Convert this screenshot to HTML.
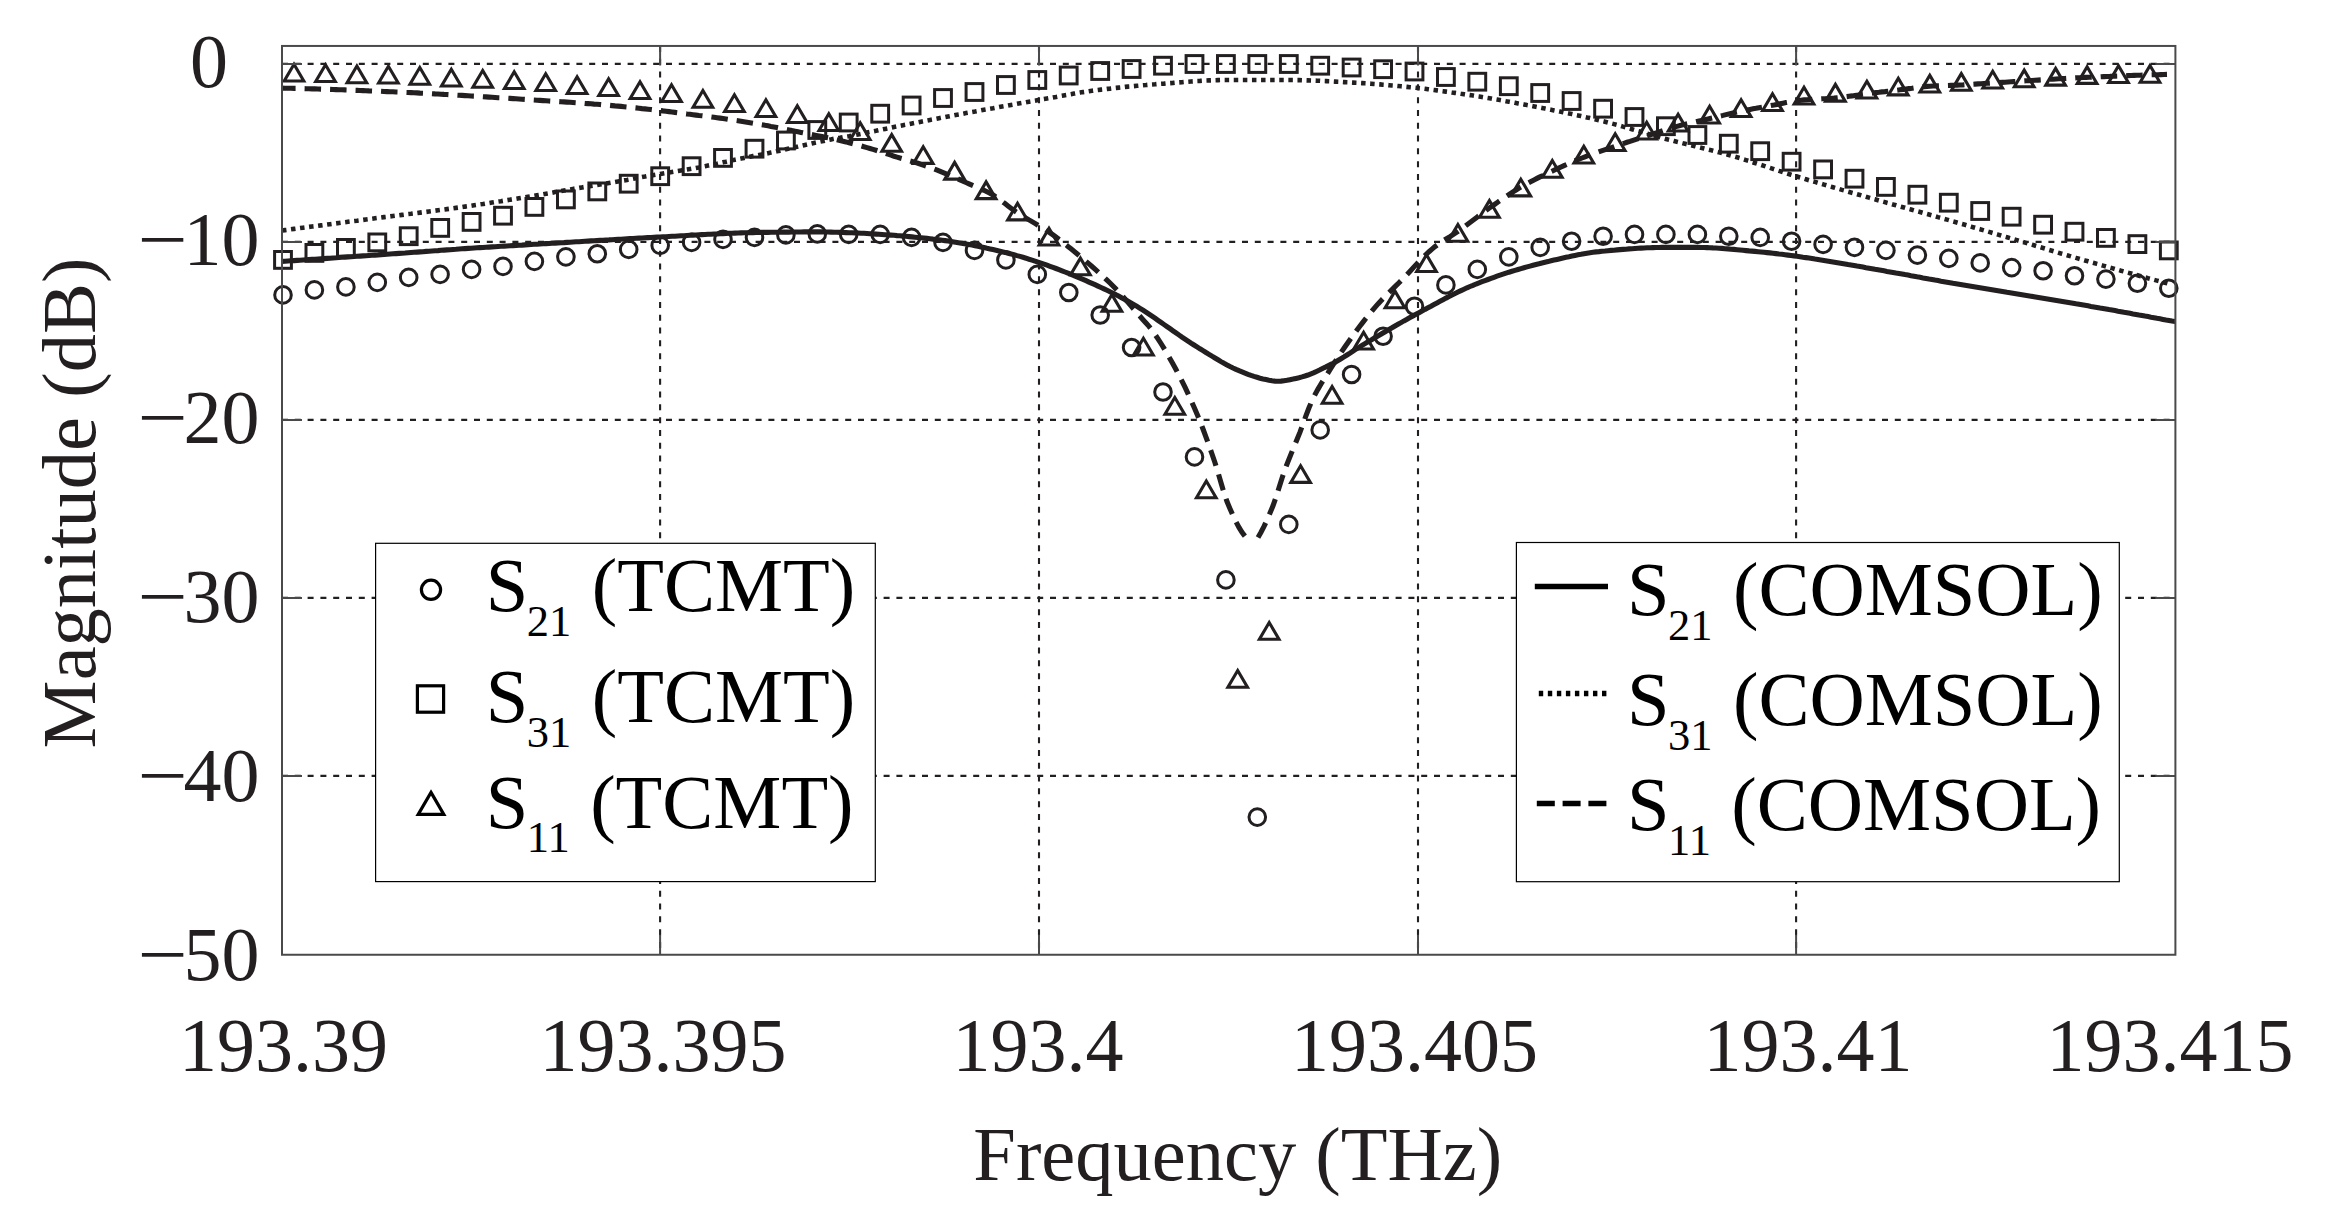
<!DOCTYPE html>
<html lang="en"><head><meta charset="utf-8"><title>S-parameters: TCMT vs COMSOL</title>
<style>html,body{margin:0;padding:0;background:#fff}svg{display:block}text{font-family:"Liberation Serif","DejaVu Serif",serif;fill:#231f20}.lg text{fill:#000}</style></head><body>
<svg width="2329" height="1226" viewBox="0 0 2329 1226">
<rect width="2329" height="1226" fill="#fff"/>
<g stroke="#231f20" stroke-width="2.1" stroke-dasharray="6 6.8" fill="none">
<path d="M282.0 63.9H2175.4"/>
<path d="M282.0 241.9H2175.4"/>
<path d="M282.0 419.9H2175.4"/>
<path d="M282.0 597.9H2175.4"/>
<path d="M282.0 775.9H2175.4"/>
<path d="M660.1 45.95V954.8"/>
<path d="M1039.0 45.95V954.8"/>
<path d="M1418.0 45.95V954.8"/>
<path d="M1796.1 45.95V954.8"/>
</g>
<clipPath id="ax"><rect x="282.0" y="45.95" width="1893.4" height="908.8499999999999"/></clipPath>
<g fill="none" stroke="#231f20" stroke-width="5.1" clip-path="url(#ax)">
<path d="M282.0 261.4 L285.0 261.2 L288.0 261.0 L291.0 260.8 L294.0 260.6 L297.0 260.4 L300.0 260.2 L303.0 260.0 L306.0 259.8 L309.0 259.6 L312.0 259.4 L315.0 259.2 L318.0 259.0 L321.0 258.8 L324.0 258.6 L327.0 258.4 L330.0 258.2 L333.0 258.0 L336.0 257.8 L339.0 257.5 L342.0 257.3 L345.0 257.1 L348.0 256.9 L351.0 256.7 L354.0 256.5 L357.0 256.3 L360.0 256.1 L363.0 255.9 L366.0 255.7 L369.0 255.5 L372.0 255.3 L375.0 255.1 L378.0 254.9 L381.0 254.6 L384.0 254.4 L387.0 254.2 L390.0 254.0 L393.0 253.8 L396.0 253.6 L399.0 253.4 L402.0 253.2 L405.0 253.0 L408.0 252.7 L411.0 252.5 L414.0 252.3 L417.0 252.1 L420.0 251.9 L423.0 251.7 L426.0 251.4 L429.0 251.2 L432.0 251.0 L435.0 250.8 L438.0 250.6 L441.0 250.3 L444.0 250.1 L447.0 249.9 L450.0 249.7 L453.0 249.5 L456.0 249.3 L459.0 249.0 L462.0 248.8 L465.0 248.6 L468.0 248.4 L471.0 248.2 L474.0 248.0 L477.0 247.8 L480.0 247.6 L483.0 247.5 L486.0 247.3 L489.0 247.1 L492.0 246.9 L495.0 246.7 L498.0 246.5 L501.0 246.3 L504.0 246.1 L507.0 246.0 L510.0 245.8 L513.0 245.6 L516.0 245.4 L519.0 245.2 L522.0 245.1 L525.0 244.9 L528.0 244.7 L531.0 244.5 L534.0 244.3 L537.0 244.2 L540.0 244.0 L543.0 243.8 L546.0 243.6 L549.0 243.5 L552.0 243.3 L555.0 243.1 L558.0 242.9 L561.0 242.7 L564.0 242.6 L567.0 242.4 L570.0 242.2 L573.0 242.0 L576.0 241.8 L579.0 241.7 L582.0 241.5 L585.0 241.3 L588.0 241.1 L591.0 240.9 L594.0 240.8 L597.0 240.6 L600.0 240.4 L603.0 240.2 L606.0 240.0 L609.0 239.9 L612.0 239.7 L615.0 239.5 L618.0 239.3 L621.0 239.2 L624.0 239.0 L627.0 238.8 L630.0 238.6 L633.0 238.5 L636.0 238.3 L639.0 238.1 L642.0 238.0 L645.0 237.8 L648.0 237.6 L651.0 237.5 L654.0 237.3 L657.0 237.1 L660.0 237.0 L663.0 236.8 L666.0 236.7 L669.0 236.5 L672.0 236.3 L675.0 236.2 L678.0 236.0 L681.0 235.8 L684.0 235.7 L687.0 235.5 L690.0 235.3 L693.0 235.1 L696.0 235.0 L699.0 234.8 L702.0 234.6 L705.0 234.5 L708.0 234.3 L711.0 234.2 L714.0 234.0 L717.0 233.9 L720.0 233.7 L723.0 233.6 L726.0 233.4 L729.0 233.3 L732.0 233.2 L735.0 233.1 L738.0 233.0 L741.0 232.9 L744.0 232.8 L747.0 232.7 L750.0 232.7 L753.0 232.6 L756.0 232.5 L759.0 232.5 L762.0 232.4 L765.0 232.4 L768.0 232.4 L771.0 232.3 L774.0 232.3 L777.0 232.2 L780.0 232.2 L783.0 232.1 L786.0 232.1 L789.0 232.1 L792.0 232.0 L795.0 232.0 L798.0 232.0 L801.0 232.0 L804.0 231.9 L807.0 231.9 L810.0 231.9 L813.0 231.9 L816.0 231.9 L819.0 231.9 L822.0 231.9 L825.0 232.0 L828.0 232.0 L831.0 232.1 L834.0 232.2 L837.0 232.3 L840.0 232.4 L843.0 232.5 L846.0 232.6 L849.0 232.7 L852.0 232.8 L855.0 232.9 L858.0 233.0 L861.0 233.2 L864.0 233.3 L867.0 233.5 L870.0 233.7 L873.0 233.9 L876.0 234.1 L879.0 234.3 L882.0 234.5 L885.0 234.7 L888.0 234.9 L891.0 235.1 L894.0 235.3 L897.0 235.6 L900.0 235.8 L903.0 236.1 L906.0 236.3 L909.0 236.6 L912.0 236.9 L915.0 237.2 L918.0 237.5 L921.0 237.8 L924.0 238.1 L927.0 238.4 L930.0 238.7 L933.0 239.1 L936.0 239.4 L939.0 239.8 L942.0 240.2 L945.0 240.6 L948.0 241.0 L951.0 241.4 L954.0 241.9 L957.0 242.4 L960.0 242.9 L963.0 243.4 L966.0 243.9 L969.0 244.5 L972.0 245.1 L975.0 245.7 L978.0 246.3 L981.0 246.9 L984.0 247.6 L987.0 248.3 L990.0 248.9 L993.0 249.6 L996.0 250.3 L999.0 251.0 L1002.0 251.7 L1005.0 252.4 L1008.0 253.2 L1011.0 253.9 L1014.0 254.7 L1017.0 255.6 L1020.0 256.4 L1023.0 257.3 L1026.0 258.2 L1029.0 259.2 L1032.0 260.1 L1035.0 261.1 L1038.0 262.1 L1041.0 263.1 L1044.0 264.1 L1047.0 265.2 L1050.0 266.3 L1053.0 267.4 L1056.0 268.5 L1059.0 269.6 L1062.0 270.8 L1065.0 272.0 L1068.0 273.2 L1071.0 274.4 L1074.0 275.6 L1077.0 276.9 L1080.0 278.2 L1083.0 279.4 L1086.0 280.7 L1089.0 282.1 L1092.0 283.4 L1095.0 284.7 L1098.0 286.1 L1101.0 287.5 L1104.0 288.9 L1107.0 290.3 L1110.0 291.7 L1113.0 293.2 L1116.0 294.8 L1119.0 296.3 L1122.0 297.9 L1125.0 299.5 L1128.0 301.2 L1131.0 302.9 L1134.0 304.6 L1137.0 306.4 L1140.0 308.3 L1143.0 310.2 L1146.0 312.2 L1149.0 314.2 L1152.0 316.2 L1155.0 318.2 L1158.0 320.3 L1161.0 322.4 L1164.0 324.5 L1167.0 326.6 L1170.0 328.7 L1173.0 330.8 L1176.0 332.9 L1179.0 335.0 L1182.0 337.1 L1185.0 339.1 L1188.0 341.1 L1191.0 343.1 L1194.0 345.0 L1197.0 346.9 L1200.0 348.8 L1203.0 350.6 L1206.0 352.5 L1209.0 354.3 L1212.0 356.2 L1215.0 358.0 L1218.0 359.8 L1221.0 361.6 L1224.0 363.3 L1227.0 364.9 L1230.0 366.5 L1233.0 368.0 L1236.0 369.4 L1239.0 370.7 L1242.0 371.9 L1245.0 373.1 L1248.0 374.3 L1251.0 375.4 L1254.0 376.4 L1257.0 377.3 L1260.0 378.2 L1263.0 378.9 L1266.0 379.5 L1269.0 380.2 L1272.0 380.8 L1275.0 381.1 L1278.0 381.2 L1281.0 381.1 L1284.0 380.7 L1287.0 380.3 L1290.0 379.7 L1293.0 379.1 L1296.0 378.4 L1299.0 377.7 L1302.0 376.9 L1305.0 376.0 L1308.0 375.0 L1311.0 373.8 L1314.0 372.6 L1317.0 371.2 L1320.0 369.8 L1323.0 368.3 L1326.0 366.9 L1329.0 365.4 L1332.0 363.9 L1335.0 362.3 L1338.0 360.5 L1341.0 358.7 L1344.0 356.9 L1347.0 355.0 L1350.0 353.1 L1353.0 351.1 L1356.0 349.2 L1359.0 347.3 L1362.0 345.4 L1365.0 343.6 L1368.0 341.8 L1371.0 340.1 L1374.0 338.3 L1377.0 336.5 L1380.0 334.8 L1383.0 333.0 L1386.0 331.2 L1389.0 329.5 L1392.0 327.8 L1395.0 326.0 L1398.0 324.3 L1401.0 322.6 L1404.0 320.9 L1407.0 319.3 L1410.0 317.6 L1413.0 316.0 L1416.0 314.3 L1419.0 312.7 L1422.0 311.1 L1425.0 309.4 L1428.0 307.8 L1431.0 306.2 L1434.0 304.5 L1437.0 302.9 L1440.0 301.3 L1443.0 299.7 L1446.0 298.1 L1449.0 296.6 L1452.0 295.0 L1455.0 293.5 L1458.0 292.0 L1461.0 290.6 L1464.0 289.2 L1467.0 287.8 L1470.0 286.5 L1473.0 285.3 L1476.0 284.0 L1479.0 282.9 L1482.0 281.7 L1485.0 280.6 L1488.0 279.5 L1491.0 278.4 L1494.0 277.3 L1497.0 276.2 L1500.0 275.2 L1503.0 274.2 L1506.0 273.2 L1509.0 272.2 L1512.0 271.3 L1515.0 270.4 L1518.0 269.5 L1521.0 268.6 L1524.0 267.7 L1527.0 266.9 L1530.0 266.1 L1533.0 265.3 L1536.0 264.5 L1539.0 263.8 L1542.0 263.0 L1545.0 262.3 L1548.0 261.6 L1551.0 260.8 L1554.0 260.1 L1557.0 259.4 L1560.0 258.7 L1563.0 258.0 L1566.0 257.3 L1569.0 256.7 L1572.0 256.0 L1575.0 255.4 L1578.0 254.8 L1581.0 254.3 L1584.0 253.7 L1587.0 253.2 L1590.0 252.7 L1593.0 252.3 L1596.0 251.9 L1599.0 251.6 L1602.0 251.2 L1605.0 251.0 L1608.0 250.7 L1611.0 250.4 L1614.0 250.2 L1617.0 249.9 L1620.0 249.6 L1623.0 249.4 L1626.0 249.2 L1629.0 248.9 L1632.0 248.7 L1635.0 248.5 L1638.0 248.3 L1641.0 248.1 L1644.0 248.0 L1647.0 247.8 L1650.0 247.7 L1653.0 247.6 L1656.0 247.5 L1659.0 247.5 L1662.0 247.4 L1665.0 247.4 L1668.0 247.4 L1671.0 247.4 L1674.0 247.4 L1677.0 247.4 L1680.0 247.4 L1683.0 247.4 L1686.0 247.4 L1689.0 247.4 L1692.0 247.4 L1695.0 247.4 L1698.0 247.4 L1701.0 247.5 L1704.0 247.5 L1707.0 247.6 L1710.0 247.7 L1713.0 247.9 L1716.0 248.0 L1719.0 248.2 L1722.0 248.4 L1725.0 248.7 L1728.0 248.9 L1731.0 249.2 L1734.0 249.4 L1737.0 249.7 L1740.0 250.0 L1743.0 250.3 L1746.0 250.6 L1749.0 250.9 L1752.0 251.1 L1755.0 251.4 L1758.0 251.7 L1761.0 252.0 L1764.0 252.3 L1767.0 252.6 L1770.0 252.9 L1773.0 253.2 L1776.0 253.6 L1779.0 254.0 L1782.0 254.3 L1785.0 254.7 L1788.0 255.1 L1791.0 255.5 L1794.0 255.9 L1797.0 256.3 L1800.0 256.7 L1803.0 257.2 L1806.0 257.6 L1809.0 258.0 L1812.0 258.5 L1815.0 259.0 L1818.0 259.4 L1821.0 259.9 L1824.0 260.4 L1827.0 260.9 L1830.0 261.4 L1833.0 261.9 L1836.0 262.4 L1839.0 262.9 L1842.0 263.4 L1845.0 263.9 L1848.0 264.5 L1851.0 265.0 L1854.0 265.5 L1857.0 266.1 L1860.0 266.6 L1863.0 267.1 L1866.0 267.7 L1869.0 268.2 L1872.0 268.7 L1875.0 269.3 L1878.0 269.8 L1881.0 270.3 L1884.0 270.8 L1887.0 271.4 L1890.0 271.9 L1893.0 272.4 L1896.0 273.0 L1899.0 273.5 L1902.0 274.0 L1905.0 274.6 L1908.0 275.1 L1911.0 275.7 L1914.0 276.2 L1917.0 276.8 L1920.0 277.3 L1923.0 277.9 L1926.0 278.4 L1929.0 279.0 L1932.0 279.5 L1935.0 280.1 L1938.0 280.6 L1941.0 281.2 L1944.0 281.7 L1947.0 282.2 L1950.0 282.7 L1953.0 283.3 L1956.0 283.8 L1959.0 284.3 L1962.0 284.8 L1965.0 285.3 L1968.0 285.8 L1971.0 286.3 L1974.0 286.8 L1977.0 287.3 L1980.0 287.8 L1983.0 288.3 L1986.0 288.8 L1989.0 289.3 L1992.0 289.8 L1995.0 290.3 L1998.0 290.8 L2001.0 291.3 L2004.0 291.8 L2007.0 292.3 L2010.0 292.7 L2013.0 293.2 L2016.0 293.7 L2019.0 294.2 L2022.0 294.7 L2025.0 295.2 L2028.0 295.7 L2031.0 296.2 L2034.0 296.7 L2037.0 297.2 L2040.0 297.7 L2043.0 298.2 L2046.0 298.7 L2049.0 299.2 L2052.0 299.7 L2055.0 300.2 L2058.0 300.7 L2061.0 301.2 L2064.0 301.7 L2067.0 302.2 L2070.0 302.7 L2073.0 303.2 L2076.0 303.8 L2079.0 304.3 L2082.0 304.8 L2085.0 305.3 L2088.0 305.8 L2091.0 306.4 L2094.0 306.9 L2097.0 307.4 L2100.0 308.0 L2103.0 308.5 L2106.0 309.0 L2109.0 309.6 L2112.0 310.1 L2115.0 310.6 L2118.0 311.2 L2121.0 311.7 L2124.0 312.3 L2127.0 312.8 L2130.0 313.3 L2133.0 313.9 L2136.0 314.4 L2139.0 315.0 L2142.0 315.5 L2145.0 316.1 L2148.0 316.6 L2151.0 317.2 L2154.0 317.7 L2157.0 318.3 L2160.0 318.8 L2163.0 319.4 L2166.0 320.0 L2169.0 320.5 L2172.0 321.1 L2175.0 321.6 L2175.4 321.7"/>
<path d="M282.0 230.5 L285.0 230.1 L288.0 229.7 L291.0 229.3 L294.0 228.9 L297.0 228.5 L300.0 228.1 L303.0 227.7 L306.0 227.3 L309.0 226.9 L312.0 226.5 L315.0 226.2 L318.0 225.8 L321.0 225.4 L324.0 225.0 L327.0 224.6 L330.0 224.2 L333.0 223.8 L336.0 223.4 L339.0 223.0 L342.0 222.6 L345.0 222.2 L348.0 221.8 L351.0 221.4 L354.0 221.0 L357.0 220.7 L360.0 220.3 L363.0 219.9 L366.0 219.5 L369.0 219.1 L372.0 218.7 L375.0 218.3 L378.0 217.9 L381.0 217.5 L384.0 217.1 L387.0 216.8 L390.0 216.4 L393.0 216.0 L396.0 215.6 L399.0 215.3 L402.0 214.9 L405.0 214.5 L408.0 214.1 L411.0 213.8 L414.0 213.4 L417.0 213.0 L420.0 212.6 L423.0 212.2 L426.0 211.9 L429.0 211.5 L432.0 211.1 L435.0 210.7 L438.0 210.3 L441.0 209.9 L444.0 209.5 L447.0 209.1 L450.0 208.7 L453.0 208.3 L456.0 207.9 L459.0 207.5 L462.0 207.1 L465.0 206.6 L468.0 206.2 L471.0 205.8 L474.0 205.3 L477.0 204.9 L480.0 204.4 L483.0 204.0 L486.0 203.5 L489.0 203.1 L492.0 202.6 L495.0 202.1 L498.0 201.6 L501.0 201.2 L504.0 200.7 L507.0 200.2 L510.0 199.7 L513.0 199.2 L516.0 198.8 L519.0 198.3 L522.0 197.8 L525.0 197.3 L528.0 196.8 L531.0 196.3 L534.0 195.8 L537.0 195.3 L540.0 194.8 L543.0 194.3 L546.0 193.7 L549.0 193.2 L552.0 192.7 L555.0 192.1 L558.0 191.6 L561.0 191.1 L564.0 190.5 L567.0 190.0 L570.0 189.5 L573.0 188.9 L576.0 188.4 L579.0 187.9 L582.0 187.4 L585.0 186.9 L588.0 186.4 L591.0 185.9 L594.0 185.5 L597.0 185.0 L600.0 184.5 L603.0 184.0 L606.0 183.5 L609.0 183.0 L612.0 182.5 L615.0 182.0 L618.0 181.5 L621.0 181.0 L624.0 180.4 L627.0 179.9 L630.0 179.3 L633.0 178.8 L636.0 178.2 L639.0 177.7 L642.0 177.1 L645.0 176.6 L648.0 176.0 L651.0 175.5 L654.0 174.9 L657.0 174.4 L660.0 173.9 L663.0 173.4 L666.0 172.9 L669.0 172.4 L672.0 171.9 L675.0 171.4 L678.0 170.9 L681.0 170.4 L684.0 170.0 L687.0 169.5 L690.0 169.0 L693.0 168.5 L696.0 167.9 L699.0 167.4 L702.0 166.8 L705.0 166.2 L708.0 165.6 L711.0 165.0 L714.0 164.3 L717.0 163.7 L720.0 163.0 L723.0 162.3 L726.0 161.7 L729.0 161.0 L732.0 160.3 L735.0 159.7 L738.0 159.1 L741.0 158.5 L744.0 157.9 L747.0 157.3 L750.0 156.7 L753.0 156.1 L756.0 155.6 L759.0 155.0 L762.0 154.4 L765.0 153.8 L768.0 153.2 L771.0 152.6 L774.0 152.0 L777.0 151.3 L780.0 150.7 L783.0 150.0 L786.0 149.3 L789.0 148.6 L792.0 147.9 L795.0 147.2 L798.0 146.6 L801.0 145.9 L804.0 145.2 L807.0 144.6 L810.0 143.9 L813.0 143.2 L816.0 142.6 L819.0 141.9 L822.0 141.3 L825.0 140.6 L828.0 140.0 L831.0 139.4 L834.0 138.8 L837.0 138.3 L840.0 137.8 L843.0 137.2 L846.0 136.7 L849.0 136.2 L852.0 135.6 L855.0 135.0 L858.0 134.4 L861.0 133.8 L864.0 133.2 L867.0 132.6 L870.0 132.0 L873.0 131.4 L876.0 130.8 L879.0 130.1 L882.0 129.5 L885.0 128.9 L888.0 128.3 L891.0 127.7 L894.0 127.0 L897.0 126.4 L900.0 125.8 L903.0 125.2 L906.0 124.7 L909.0 124.1 L912.0 123.5 L915.0 122.9 L918.0 122.3 L921.0 121.7 L924.0 121.1 L927.0 120.5 L930.0 119.9 L933.0 119.4 L936.0 118.8 L939.0 118.2 L942.0 117.6 L945.0 117.1 L948.0 116.5 L951.0 115.9 L954.0 115.4 L957.0 114.8 L960.0 114.3 L963.0 113.7 L966.0 113.1 L969.0 112.6 L972.0 112.0 L975.0 111.5 L978.0 110.9 L981.0 110.4 L984.0 109.8 L987.0 109.3 L990.0 108.7 L993.0 108.2 L996.0 107.6 L999.0 107.1 L1002.0 106.5 L1005.0 106.0 L1008.0 105.5 L1011.0 104.9 L1014.0 104.4 L1017.0 103.8 L1020.0 103.3 L1023.0 102.8 L1026.0 102.2 L1029.0 101.7 L1032.0 101.2 L1035.0 100.7 L1038.0 100.1 L1041.0 99.6 L1044.0 99.1 L1047.0 98.5 L1050.0 98.0 L1053.0 97.4 L1056.0 96.9 L1059.0 96.3 L1062.0 95.8 L1065.0 95.2 L1068.0 94.7 L1071.0 94.2 L1074.0 93.6 L1077.0 93.1 L1080.0 92.6 L1083.0 92.1 L1086.0 91.7 L1089.0 91.2 L1092.0 90.8 L1095.0 90.4 L1098.0 90.0 L1101.0 89.6 L1104.0 89.3 L1107.0 88.9 L1110.0 88.6 L1113.0 88.2 L1116.0 87.9 L1119.0 87.6 L1122.0 87.3 L1125.0 86.9 L1128.0 86.6 L1131.0 86.4 L1134.0 86.1 L1137.0 85.8 L1140.0 85.5 L1143.0 85.2 L1146.0 85.0 L1149.0 84.7 L1152.0 84.5 L1155.0 84.3 L1158.0 84.0 L1161.0 83.8 L1164.0 83.6 L1167.0 83.3 L1170.0 83.1 L1173.0 82.9 L1176.0 82.6 L1179.0 82.4 L1182.0 82.2 L1185.0 81.9 L1188.0 81.7 L1191.0 81.5 L1194.0 81.3 L1197.0 81.0 L1200.0 80.9 L1203.0 80.7 L1206.0 80.5 L1209.0 80.4 L1212.0 80.3 L1215.0 80.2 L1218.0 80.1 L1221.0 80.0 L1224.0 80.0 L1227.0 80.0 L1230.0 80.0 L1233.0 80.0 L1236.0 80.0 L1239.0 80.0 L1242.0 80.0 L1245.0 80.0 L1248.0 80.0 L1251.0 80.0 L1254.0 80.0 L1257.0 80.0 L1260.0 80.0 L1263.0 80.0 L1266.0 80.0 L1269.0 80.0 L1272.0 80.0 L1275.0 80.0 L1278.0 80.0 L1281.0 80.0 L1284.0 80.0 L1287.0 80.0 L1290.0 80.0 L1293.0 80.0 L1296.0 80.1 L1299.0 80.1 L1302.0 80.2 L1305.0 80.3 L1308.0 80.4 L1311.0 80.5 L1314.0 80.6 L1317.0 80.7 L1320.0 80.8 L1323.0 81.0 L1326.0 81.1 L1329.0 81.3 L1332.0 81.4 L1335.0 81.6 L1338.0 81.8 L1341.0 81.9 L1344.0 82.1 L1347.0 82.3 L1350.0 82.4 L1353.0 82.6 L1356.0 82.8 L1359.0 82.9 L1362.0 83.1 L1365.0 83.3 L1368.0 83.5 L1371.0 83.7 L1374.0 84.0 L1377.0 84.2 L1380.0 84.4 L1383.0 84.7 L1386.0 84.9 L1389.0 85.2 L1392.0 85.5 L1395.0 85.7 L1398.0 86.0 L1401.0 86.3 L1404.0 86.6 L1407.0 86.9 L1410.0 87.2 L1413.0 87.5 L1416.0 87.8 L1419.0 88.1 L1422.0 88.4 L1425.0 88.8 L1428.0 89.2 L1431.0 89.6 L1434.0 90.0 L1437.0 90.4 L1440.0 90.8 L1443.0 91.2 L1446.0 91.6 L1449.0 92.0 L1452.0 92.5 L1455.0 92.9 L1458.0 93.3 L1461.0 93.8 L1464.0 94.2 L1467.0 94.7 L1470.0 95.1 L1473.0 95.6 L1476.0 96.1 L1479.0 96.5 L1482.0 97.0 L1485.0 97.5 L1488.0 98.0 L1491.0 98.5 L1494.0 99.1 L1497.0 99.6 L1500.0 100.1 L1503.0 100.6 L1506.0 101.2 L1509.0 101.7 L1512.0 102.2 L1515.0 102.8 L1518.0 103.4 L1521.0 103.9 L1524.0 104.5 L1527.0 105.1 L1530.0 105.6 L1533.0 106.2 L1536.0 106.8 L1539.0 107.4 L1542.0 108.0 L1545.0 108.6 L1548.0 109.2 L1551.0 109.8 L1554.0 110.4 L1557.0 111.0 L1560.0 111.6 L1563.0 112.2 L1566.0 112.9 L1569.0 113.5 L1572.0 114.1 L1575.0 114.8 L1578.0 115.4 L1581.0 116.1 L1584.0 116.8 L1587.0 117.5 L1590.0 118.1 L1593.0 118.8 L1596.0 119.5 L1599.0 120.3 L1602.0 121.0 L1605.0 121.7 L1608.0 122.5 L1611.0 123.3 L1614.0 124.1 L1617.0 124.9 L1620.0 125.7 L1623.0 126.6 L1626.0 127.4 L1629.0 128.3 L1632.0 129.2 L1635.0 130.1 L1638.0 131.0 L1641.0 131.8 L1644.0 132.7 L1647.0 133.6 L1650.0 134.5 L1653.0 135.3 L1656.0 136.2 L1659.0 137.0 L1662.0 137.9 L1665.0 138.7 L1668.0 139.5 L1671.0 140.2 L1674.0 141.0 L1677.0 141.8 L1680.0 142.5 L1683.0 143.3 L1686.0 144.0 L1689.0 144.8 L1692.0 145.5 L1695.0 146.2 L1698.0 147.0 L1701.0 147.7 L1704.0 148.4 L1707.0 149.2 L1710.0 149.9 L1713.0 150.7 L1716.0 151.5 L1719.0 152.3 L1722.0 153.1 L1725.0 153.9 L1728.0 154.7 L1731.0 155.6 L1734.0 156.4 L1737.0 157.3 L1740.0 158.2 L1743.0 159.2 L1746.0 160.1 L1749.0 161.0 L1752.0 162.0 L1755.0 163.0 L1758.0 164.0 L1761.0 164.9 L1764.0 165.9 L1767.0 166.9 L1770.0 167.9 L1773.0 168.9 L1776.0 169.9 L1779.0 170.9 L1782.0 171.8 L1785.0 172.8 L1788.0 173.8 L1791.0 174.7 L1794.0 175.6 L1797.0 176.5 L1800.0 177.5 L1803.0 178.4 L1806.0 179.3 L1809.0 180.2 L1812.0 181.1 L1815.0 181.9 L1818.0 182.8 L1821.0 183.7 L1824.0 184.6 L1827.0 185.5 L1830.0 186.4 L1833.0 187.2 L1836.0 188.1 L1839.0 189.0 L1842.0 189.9 L1845.0 190.7 L1848.0 191.6 L1851.0 192.5 L1854.0 193.3 L1857.0 194.2 L1860.0 195.0 L1863.0 195.9 L1866.0 196.8 L1869.0 197.6 L1872.0 198.5 L1875.0 199.3 L1878.0 200.2 L1881.0 201.1 L1884.0 201.9 L1887.0 202.8 L1890.0 203.6 L1893.0 204.5 L1896.0 205.3 L1899.0 206.2 L1902.0 207.0 L1905.0 207.8 L1908.0 208.7 L1911.0 209.5 L1914.0 210.4 L1917.0 211.2 L1920.0 212.0 L1923.0 212.9 L1926.0 213.7 L1929.0 214.5 L1932.0 215.4 L1935.0 216.2 L1938.0 217.1 L1941.0 217.9 L1944.0 218.8 L1947.0 219.6 L1950.0 220.5 L1953.0 221.4 L1956.0 222.2 L1959.0 223.1 L1962.0 224.0 L1965.0 224.8 L1968.0 225.7 L1971.0 226.6 L1974.0 227.5 L1977.0 228.4 L1980.0 229.2 L1983.0 230.1 L1986.0 231.0 L1989.0 231.9 L1992.0 232.8 L1995.0 233.7 L1998.0 234.6 L2001.0 235.5 L2004.0 236.4 L2007.0 237.2 L2010.0 238.1 L2013.0 239.0 L2016.0 239.9 L2019.0 240.8 L2022.0 241.7 L2025.0 242.6 L2028.0 243.5 L2031.0 244.4 L2034.0 245.3 L2037.0 246.2 L2040.0 247.1 L2043.0 248.0 L2046.0 248.9 L2049.0 249.9 L2052.0 250.8 L2055.0 251.7 L2058.0 252.6 L2061.0 253.5 L2064.0 254.3 L2067.0 255.2 L2070.0 256.1 L2073.0 257.0 L2076.0 257.9 L2079.0 258.7 L2082.0 259.6 L2085.0 260.5 L2088.0 261.3 L2091.0 262.2 L2094.0 263.0 L2097.0 263.9 L2100.0 264.7 L2103.0 265.6 L2106.0 266.5 L2109.0 267.3 L2112.0 268.1 L2115.0 269.0 L2118.0 269.8 L2121.0 270.7 L2124.0 271.5 L2127.0 272.4 L2130.0 273.2 L2133.0 274.0 L2136.0 274.9 L2139.0 275.7 L2142.0 276.5 L2145.0 277.3 L2148.0 278.2 L2151.0 279.0 L2154.0 279.8 L2157.0 280.6 L2160.0 281.4 L2163.0 282.2 L2166.0 283.0 L2169.0 283.8 L2171.5 284.5" stroke-dasharray="4.5 4.6" stroke-width="4.6"/>
<path d="M1244.9 536.1 L1242.0 532.3 L1239.0 527.4 L1236.0 521.8 L1233.0 515.5 L1230.0 508.7 L1227.0 501.5 L1224.0 492.8 L1221.0 482.8 L1218.0 472.4 L1215.0 462.8 L1212.0 454.0 L1209.0 445.4 L1206.0 437.1 L1203.0 429.0 L1200.0 421.3 L1197.0 414.0 L1194.0 407.0 L1191.0 400.2 L1188.0 393.6 L1185.0 387.2 L1182.0 381.1 L1179.0 375.2 L1176.0 369.5 L1173.0 364.0 L1170.0 358.7 L1167.0 353.4 L1164.0 348.4 L1161.0 343.5 L1158.0 338.8 L1155.0 334.4 L1152.0 330.2 L1149.0 326.4 L1146.0 323.0 L1143.0 319.7 L1140.0 316.3 L1137.0 312.9 L1134.0 309.4 L1131.0 305.9 L1128.0 302.4 L1125.0 299.0 L1122.0 295.6 L1119.0 292.3 L1116.0 289.1 L1113.0 286.0 L1110.0 283.0 L1107.0 280.1 L1104.0 277.3 L1101.0 274.5 L1098.0 271.8 L1095.0 269.1 L1092.0 266.5 L1089.0 263.9 L1086.0 261.3 L1083.0 258.8 L1080.0 256.2 L1077.0 253.7 L1074.0 251.3 L1071.0 248.8 L1068.0 246.4 L1065.0 244.0 L1062.0 241.6 L1059.0 239.4 L1056.0 237.1 L1053.0 234.9 L1050.0 232.8 L1047.0 230.8 L1044.0 228.8 L1041.0 227.0 L1038.0 225.2 L1035.0 223.4 L1032.0 221.6 L1029.0 219.9 L1026.0 218.1 L1023.0 216.3 L1020.0 214.4 L1017.0 212.5 L1014.0 210.4 L1011.0 208.2 L1008.0 205.9 L1005.0 203.6 L1002.0 201.3 L999.0 199.1 L996.0 197.0 L993.0 195.0 L990.0 193.3 L987.0 191.8 L984.0 190.3 L981.0 189.0 L978.0 187.6 L975.0 186.4 L972.0 185.1 L969.0 183.8 L966.0 182.5 L963.0 181.1 L960.0 179.8 L957.0 178.5 L954.0 177.1 L951.0 175.8 L948.0 174.5 L945.0 173.3 L942.0 172.1 L939.0 170.9 L936.0 169.7 L933.0 168.6 L930.0 167.5 L927.0 166.4 L924.0 165.4 L921.0 164.3 L918.0 163.3 L915.0 162.4 L912.0 161.5 L909.0 160.6 L906.0 159.7 L903.0 158.8 L900.0 158.0 L897.0 157.1 L894.0 156.2 L891.0 155.2 L888.0 154.2 L885.0 153.2 L882.0 152.3 L879.0 151.3 L876.0 150.3 L873.0 149.4 L870.0 148.5 L867.0 147.6 L864.0 146.8 L861.0 145.9 L858.0 145.1 L855.0 144.3 L852.0 143.5 L849.0 142.7 L846.0 141.9 L843.0 141.2 L840.0 140.5 L837.0 139.8 L834.0 139.1 L831.0 138.5 L828.0 137.8 L825.0 137.2 L822.0 136.6 L819.0 136.0 L816.0 135.4 L813.0 134.8 L810.0 134.2 L807.0 133.6 L804.0 133.0 L801.0 132.4 L798.0 131.8 L795.0 131.2 L792.0 130.6 L789.0 129.9 L786.0 129.3 L783.0 128.7 L780.0 128.1 L777.0 127.5 L774.0 126.9 L771.0 126.4 L768.0 125.8 L765.0 125.3 L762.0 124.7 L759.0 124.2 L756.0 123.7 L753.0 123.2 L750.0 122.7 L747.0 122.2 L744.0 121.7 L741.0 121.2 L738.0 120.7 L735.0 120.3 L732.0 119.8 L729.0 119.4 L726.0 118.9 L723.0 118.5 L720.0 118.1 L717.0 117.7 L714.0 117.3 L711.0 116.9 L708.0 116.6 L705.0 116.2 L702.0 115.8 L699.0 115.5 L696.0 115.1 L693.0 114.7 L690.0 114.3 L687.0 114.0 L684.0 113.6 L681.0 113.2 L678.0 112.8 L675.0 112.4 L672.0 112.0 L669.0 111.6 L666.0 111.2 L663.0 110.9 L660.0 110.5 L657.0 110.2 L654.0 109.9 L651.0 109.5 L648.0 109.2 L645.0 108.9 L642.0 108.6 L639.0 108.2 L636.0 107.9 L633.0 107.6 L630.0 107.3 L627.0 107.0 L624.0 106.7 L621.0 106.4 L618.0 106.1 L615.0 105.9 L612.0 105.6 L609.0 105.3 L606.0 105.1 L603.0 104.8 L600.0 104.5 L597.0 104.3 L594.0 104.1 L591.0 103.8 L588.0 103.6 L585.0 103.4 L582.0 103.1 L579.0 102.9 L576.0 102.7 L573.0 102.5 L570.0 102.3 L567.0 102.1 L564.0 101.9 L561.0 101.7 L558.0 101.5 L555.0 101.3 L552.0 101.2 L549.0 101.0 L546.0 100.8 L543.0 100.6 L540.0 100.4 L537.0 100.2 L534.0 100.0 L531.0 99.8 L528.0 99.6 L525.0 99.4 L522.0 99.2 L519.0 99.0 L516.0 98.8 L513.0 98.6 L510.0 98.4 L507.0 98.2 L504.0 98.0 L501.0 97.8 L498.0 97.7 L495.0 97.5 L492.0 97.3 L489.0 97.1 L486.0 96.9 L483.0 96.7 L480.0 96.5 L477.0 96.3 L474.0 96.1 L471.0 96.0 L468.0 95.8 L465.0 95.6 L462.0 95.4 L459.0 95.3 L456.0 95.1 L453.0 94.9 L450.0 94.7 L447.0 94.5 L444.0 94.4 L441.0 94.2 L438.0 94.0 L435.0 93.9 L432.0 93.7 L429.0 93.5 L426.0 93.4 L423.0 93.2 L420.0 93.1 L417.0 92.9 L414.0 92.8 L411.0 92.6 L408.0 92.5 L405.0 92.4 L402.0 92.2 L399.0 92.1 L396.0 92.0 L393.0 91.8 L390.0 91.7 L387.0 91.6 L384.0 91.5 L381.0 91.3 L378.0 91.2 L375.0 91.1 L372.0 91.0 L369.0 90.9 L366.0 90.7 L363.0 90.6 L360.0 90.5 L357.0 90.4 L354.0 90.3 L351.0 90.2 L348.0 90.0 L345.0 89.9 L342.0 89.8 L339.0 89.7 L336.0 89.6 L333.0 89.5 L330.0 89.4 L327.0 89.3 L324.0 89.2 L321.0 89.1 L318.0 89.0 L315.0 88.9 L312.0 88.9 L309.0 88.8 L306.0 88.7 L303.0 88.6 L300.0 88.5 L297.0 88.4 L294.0 88.4 L291.0 88.3 L288.0 88.2 L285.0 88.2 L282.0 88.1" stroke-dasharray="16.5 9"/>
<path d="M1258.0 537.4 L1261.0 532.2 L1264.0 526.4 L1267.0 520.0 L1270.0 513.1 L1273.0 505.8 L1276.0 497.3 L1279.0 487.8 L1282.0 478.3 L1285.0 469.5 L1288.0 461.6 L1291.0 454.1 L1294.0 446.8 L1297.0 439.6 L1300.0 432.1 L1303.0 424.0 L1306.0 415.7 L1309.0 407.8 L1312.0 400.7 L1315.0 394.6 L1318.0 389.1 L1321.0 384.0 L1324.0 379.2 L1327.0 374.5 L1330.0 369.7 L1333.0 364.9 L1336.0 360.3 L1339.0 355.7 L1342.0 351.2 L1345.0 346.8 L1348.0 342.5 L1351.0 338.3 L1354.0 334.2 L1357.0 330.1 L1360.0 326.0 L1363.0 322.1 L1366.0 318.2 L1369.0 314.4 L1372.0 310.8 L1375.0 307.3 L1378.0 303.9 L1381.0 300.7 L1384.0 297.6 L1387.0 294.5 L1390.0 291.6 L1393.0 288.6 L1396.0 285.7 L1399.0 282.7 L1402.0 279.7 L1405.0 276.6 L1408.0 273.4 L1411.0 270.2 L1414.0 266.9 L1417.0 263.7 L1420.0 260.5 L1423.0 257.5 L1426.0 254.5 L1429.0 251.7 L1432.0 249.1 L1435.0 246.6 L1438.0 244.4 L1441.0 242.3 L1444.0 240.3 L1447.0 238.4 L1450.0 236.6 L1453.0 234.7 L1456.0 232.7 L1459.0 230.6 L1462.0 228.5 L1465.0 226.3 L1468.0 224.0 L1471.0 221.8 L1474.0 219.5 L1477.0 217.2 L1480.0 214.9 L1483.0 212.7 L1486.0 210.5 L1489.0 208.3 L1492.0 206.2 L1495.0 204.1 L1498.0 202.0 L1501.0 199.9 L1504.0 197.8 L1507.0 195.8 L1510.0 193.8 L1513.0 191.8 L1516.0 190.0 L1519.0 188.1 L1522.0 186.4 L1525.0 184.7 L1528.0 183.1 L1531.0 181.5 L1534.0 179.9 L1537.0 178.4 L1540.0 176.9 L1543.0 175.5 L1546.0 174.0 L1549.0 172.6 L1552.0 171.2 L1555.0 169.8 L1558.0 168.4 L1561.0 167.0 L1564.0 165.6 L1567.0 164.3 L1570.0 163.0 L1573.0 161.7 L1576.0 160.4 L1579.0 159.2 L1582.0 158.0 L1585.0 156.8 L1588.0 155.7 L1591.0 154.6 L1594.0 153.5 L1597.0 152.5 L1600.0 151.4 L1603.0 150.4 L1606.0 149.4 L1609.0 148.4 L1612.0 147.4 L1615.0 146.3 L1618.0 145.3 L1621.0 144.3 L1624.0 143.3 L1627.0 142.3 L1630.0 141.4 L1633.0 140.4 L1636.0 139.4 L1639.0 138.4 L1642.0 137.5 L1645.0 136.5 L1648.0 135.5 L1651.0 134.6 L1654.0 133.6 L1657.0 132.6 L1660.0 131.6 L1663.0 130.6 L1666.0 129.7 L1669.0 128.7 L1672.0 127.8 L1675.0 126.9 L1678.0 126.1 L1681.0 125.3 L1684.0 124.6 L1687.0 123.8 L1690.0 123.1 L1693.0 122.5 L1696.0 121.8 L1699.0 121.1 L1702.0 120.4 L1705.0 119.7 L1708.0 119.0 L1711.0 118.3 L1714.0 117.6 L1717.0 116.9 L1720.0 116.1 L1723.0 115.4 L1726.0 114.6 L1729.0 113.9 L1732.0 113.2 L1735.0 112.5 L1738.0 111.8 L1741.0 111.2 L1744.0 110.6 L1747.0 110.0 L1750.0 109.4 L1753.0 108.8 L1756.0 108.3 L1759.0 107.7 L1762.0 107.2 L1765.0 106.6 L1768.0 106.1 L1771.0 105.5 L1774.0 105.0 L1777.0 104.4 L1780.0 103.8 L1783.0 103.2 L1786.0 102.6 L1789.0 102.1 L1792.0 101.5 L1795.0 101.0 L1798.0 100.6 L1801.0 100.2 L1804.0 99.9 L1807.0 99.7 L1810.0 99.5 L1813.0 99.3 L1816.0 99.1 L1819.0 99.0 L1822.0 98.8 L1825.0 98.7 L1828.0 98.5 L1831.0 98.3 L1834.0 98.1 L1837.0 97.8 L1840.0 97.5 L1843.0 97.1 L1846.0 96.7 L1849.0 96.3 L1852.0 95.9 L1855.0 95.4 L1858.0 95.0 L1861.0 94.5 L1864.0 94.1 L1867.0 93.7 L1870.0 93.3 L1873.0 93.0 L1876.0 92.6 L1879.0 92.3 L1882.0 91.9 L1885.0 91.6 L1888.0 91.2 L1891.0 90.9 L1894.0 90.5 L1897.0 90.2 L1900.0 89.8 L1903.0 89.4 L1906.0 89.0 L1909.0 88.6 L1912.0 88.2 L1915.0 87.7 L1918.0 87.3 L1921.0 87.0 L1924.0 86.7 L1927.0 86.4 L1930.0 86.2 L1933.0 86.0 L1936.0 85.9 L1939.0 85.8 L1942.0 85.7 L1945.0 85.6 L1948.0 85.5 L1951.0 85.4 L1954.0 85.3 L1957.0 85.1 L1960.0 85.0 L1963.0 84.9 L1966.0 84.7 L1969.0 84.5 L1972.0 84.3 L1975.0 84.1 L1978.0 83.9 L1981.0 83.7 L1984.0 83.5 L1987.0 83.3 L1990.0 83.1 L1993.0 83.0 L1996.0 82.8 L1999.0 82.6 L2002.0 82.4 L2005.0 82.2 L2008.0 82.0 L2011.0 81.8 L2014.0 81.6 L2017.0 81.4 L2020.0 81.2 L2023.0 81.0 L2026.0 80.8 L2029.0 80.7 L2032.0 80.5 L2035.0 80.3 L2038.0 80.1 L2041.0 79.9 L2044.0 79.7 L2047.0 79.5 L2050.0 79.3 L2053.0 79.2 L2056.0 79.0 L2059.0 78.8 L2062.0 78.6 L2065.0 78.5 L2068.0 78.3 L2071.0 78.1 L2074.0 78.0 L2077.0 77.8 L2080.0 77.7 L2083.0 77.5 L2086.0 77.4 L2089.0 77.3 L2092.0 77.1 L2095.0 77.0 L2098.0 76.9 L2101.0 76.7 L2104.0 76.6 L2107.0 76.5 L2110.0 76.4 L2113.0 76.2 L2116.0 76.1 L2119.0 76.0 L2122.0 75.9 L2125.0 75.8 L2128.0 75.6 L2131.0 75.5 L2134.0 75.4 L2137.0 75.3 L2140.0 75.2 L2143.0 75.1 L2146.0 75.0 L2149.0 74.9 L2152.0 74.8 L2155.0 74.7 L2158.0 74.7 L2161.0 74.6 L2164.0 74.5 L2167.0 74.4" stroke-dasharray="16.5 9"/>
</g>
<g fill="none" stroke="#231f20" stroke-width="3">
<circle cx="283.0" cy="294.9" r="8.3"/>
<circle cx="314.4" cy="289.9" r="8.3"/>
<circle cx="345.9" cy="286.9" r="8.3"/>
<circle cx="377.3" cy="282.4" r="8.3"/>
<circle cx="408.7" cy="277.4" r="8.3"/>
<circle cx="440.1" cy="274.4" r="8.3"/>
<circle cx="471.6" cy="269.4" r="8.3"/>
<circle cx="503.0" cy="266.4" r="8.3"/>
<circle cx="534.4" cy="261.4" r="8.3"/>
<circle cx="565.9" cy="256.9" r="8.3"/>
<circle cx="597.3" cy="253.7" r="8.3"/>
<circle cx="628.7" cy="249.4" r="8.3"/>
<circle cx="660.2" cy="245.4" r="8.3"/>
<circle cx="691.6" cy="242.4" r="8.3"/>
<circle cx="723.0" cy="239.4" r="8.3"/>
<circle cx="754.5" cy="237.4" r="8.3"/>
<circle cx="785.9" cy="234.9" r="8.3"/>
<circle cx="817.3" cy="233.9" r="8.3"/>
<circle cx="848.7" cy="234.4" r="8.3"/>
<circle cx="880.2" cy="234.4" r="8.3"/>
<circle cx="911.6" cy="237.4" r="8.3"/>
<circle cx="943.0" cy="242.4" r="8.3"/>
<circle cx="974.5" cy="250.4" r="8.3"/>
<circle cx="1005.9" cy="259.9" r="8.3"/>
<circle cx="1037.3" cy="274.4" r="8.3"/>
<circle cx="1068.8" cy="292.5" r="8.3"/>
<circle cx="1100.2" cy="315.0" r="8.3"/>
<circle cx="1131.6" cy="347.5" r="8.3"/>
<circle cx="1163.0" cy="392.0" r="8.3"/>
<circle cx="1194.5" cy="456.9" r="8.3"/>
<circle cx="1225.9" cy="579.9" r="8.3"/>
<circle cx="1257.3" cy="817.1" r="8.3"/>
<circle cx="1288.8" cy="524.4" r="8.3"/>
<circle cx="1320.2" cy="429.9" r="8.3"/>
<circle cx="1351.6" cy="374.5" r="8.3"/>
<circle cx="1383.1" cy="336.2" r="8.3"/>
<circle cx="1414.5" cy="306.2" r="8.3"/>
<circle cx="1445.9" cy="284.9" r="8.3"/>
<circle cx="1477.3" cy="269.4" r="8.3"/>
<circle cx="1508.8" cy="256.9" r="8.3"/>
<circle cx="1540.2" cy="247.4" r="8.3"/>
<circle cx="1571.6" cy="241.2" r="8.3"/>
<circle cx="1603.1" cy="236.2" r="8.3"/>
<circle cx="1634.5" cy="234.4" r="8.3"/>
<circle cx="1665.9" cy="234.4" r="8.3"/>
<circle cx="1697.4" cy="234.4" r="8.3"/>
<circle cx="1728.8" cy="236.2" r="8.3"/>
<circle cx="1760.2" cy="237.4" r="8.3"/>
<circle cx="1791.6" cy="241.2" r="8.3"/>
<circle cx="1823.1" cy="244.4" r="8.3"/>
<circle cx="1854.5" cy="247.4" r="8.3"/>
<circle cx="1885.9" cy="250.4" r="8.3"/>
<circle cx="1917.4" cy="255.1" r="8.3"/>
<circle cx="1948.8" cy="258.4" r="8.3"/>
<circle cx="1980.2" cy="262.9" r="8.3"/>
<circle cx="2011.7" cy="267.6" r="8.3"/>
<circle cx="2043.1" cy="270.8" r="8.3"/>
<circle cx="2074.5" cy="275.8" r="8.3"/>
<circle cx="2105.9" cy="279.1" r="8.3"/>
<circle cx="2137.4" cy="283.3" r="8.3"/>
<circle cx="2168.8" cy="288.3" r="8.3"/>
<rect x="274.6" y="251.5" width="16.8" height="16.8"/>
<rect x="306.0" y="244.5" width="16.8" height="16.8"/>
<rect x="337.5" y="239.5" width="16.8" height="16.8"/>
<rect x="368.9" y="234.0" width="16.8" height="16.8"/>
<rect x="400.3" y="227.8" width="16.8" height="16.8"/>
<rect x="431.8" y="219.5" width="16.8" height="16.8"/>
<rect x="463.2" y="213.5" width="16.8" height="16.8"/>
<rect x="494.6" y="207.3" width="16.8" height="16.8"/>
<rect x="526.0" y="198.5" width="16.8" height="16.8"/>
<rect x="557.5" y="191.0" width="16.8" height="16.8"/>
<rect x="588.9" y="183.0" width="16.8" height="16.8"/>
<rect x="620.3" y="175.3" width="16.8" height="16.8"/>
<rect x="651.8" y="167.8" width="16.8" height="16.8"/>
<rect x="683.2" y="157.8" width="16.8" height="16.8"/>
<rect x="714.6" y="149.5" width="16.8" height="16.8"/>
<rect x="746.1" y="140.3" width="16.8" height="16.8"/>
<rect x="777.5" y="132.1" width="16.8" height="16.8"/>
<rect x="808.9" y="121.6" width="16.8" height="16.8"/>
<rect x="840.3" y="114.1" width="16.8" height="16.8"/>
<rect x="871.8" y="105.3" width="16.8" height="16.8"/>
<rect x="903.2" y="97.1" width="16.8" height="16.8"/>
<rect x="934.6" y="89.6" width="16.8" height="16.8"/>
<rect x="966.1" y="83.6" width="16.8" height="16.8"/>
<rect x="997.5" y="76.6" width="16.8" height="16.8"/>
<rect x="1028.9" y="71.6" width="16.8" height="16.8"/>
<rect x="1060.3" y="67.1" width="16.8" height="16.8"/>
<rect x="1091.8" y="62.6" width="16.8" height="16.8"/>
<rect x="1123.2" y="60.6" width="16.8" height="16.8"/>
<rect x="1154.6" y="57.3" width="16.8" height="16.8"/>
<rect x="1186.1" y="55.6" width="16.8" height="16.8"/>
<rect x="1217.5" y="55.6" width="16.8" height="16.8"/>
<rect x="1248.9" y="55.6" width="16.8" height="16.8"/>
<rect x="1280.4" y="55.6" width="16.8" height="16.8"/>
<rect x="1311.8" y="57.3" width="16.8" height="16.8"/>
<rect x="1343.2" y="59.1" width="16.8" height="16.8"/>
<rect x="1374.7" y="60.8" width="16.8" height="16.8"/>
<rect x="1406.1" y="63.1" width="16.8" height="16.8"/>
<rect x="1437.5" y="68.6" width="16.8" height="16.8"/>
<rect x="1468.9" y="73.3" width="16.8" height="16.8"/>
<rect x="1500.4" y="77.8" width="16.8" height="16.8"/>
<rect x="1531.8" y="84.6" width="16.8" height="16.8"/>
<rect x="1563.2" y="92.6" width="16.8" height="16.8"/>
<rect x="1594.7" y="100.3" width="16.8" height="16.8"/>
<rect x="1626.1" y="108.6" width="16.8" height="16.8"/>
<rect x="1657.5" y="117.8" width="16.8" height="16.8"/>
<rect x="1689.0" y="126.6" width="16.8" height="16.8"/>
<rect x="1720.4" y="135.3" width="16.8" height="16.8"/>
<rect x="1751.8" y="142.8" width="16.8" height="16.8"/>
<rect x="1783.2" y="153.3" width="16.8" height="16.8"/>
<rect x="1814.7" y="161.0" width="16.8" height="16.8"/>
<rect x="1846.1" y="170.3" width="16.8" height="16.8"/>
<rect x="1877.5" y="178.5" width="16.8" height="16.8"/>
<rect x="1909.0" y="186.3" width="16.8" height="16.8"/>
<rect x="1940.4" y="194.3" width="16.8" height="16.8"/>
<rect x="1971.8" y="202.6" width="16.8" height="16.8"/>
<rect x="2003.2" y="208.3" width="16.8" height="16.8"/>
<rect x="2034.7" y="216.3" width="16.8" height="16.8"/>
<rect x="2066.1" y="223.3" width="16.8" height="16.8"/>
<rect x="2097.5" y="229.5" width="16.8" height="16.8"/>
<rect x="2129.0" y="235.7" width="16.8" height="16.8"/>
<rect x="2160.4" y="242.0" width="16.8" height="16.8"/>
<path d="M294.0 64.3l9.8 16.7h-19.6z" stroke-width="3.1"/>
<path d="M325.5 64.8l9.8 16.7h-19.6z" stroke-width="3.1"/>
<path d="M356.9 66.0l9.8 16.7h-19.6z" stroke-width="3.1"/>
<path d="M388.4 66.3l9.8 16.7h-19.6z" stroke-width="3.1"/>
<path d="M419.8 67.5l9.8 16.7h-19.6z" stroke-width="3.1"/>
<path d="M451.3 69.3l9.8 16.7h-19.6z" stroke-width="3.1"/>
<path d="M482.7 70.5l9.8 16.7h-19.6z" stroke-width="3.1"/>
<path d="M514.2 71.8l9.8 16.7h-19.6z" stroke-width="3.1"/>
<path d="M545.7 73.8l9.8 16.7h-19.6z" stroke-width="3.1"/>
<path d="M577.1 76.8l9.8 16.7h-19.6z" stroke-width="3.1"/>
<path d="M608.6 78.8l9.8 16.7h-19.6z" stroke-width="3.1"/>
<path d="M640.0 81.8l9.8 16.7h-19.6z" stroke-width="3.1"/>
<path d="M671.5 84.8l9.8 16.7h-19.6z" stroke-width="3.1"/>
<path d="M702.9 90.5l9.8 16.7h-19.6z" stroke-width="3.1"/>
<path d="M734.4 94.8l9.8 16.7h-19.6z" stroke-width="3.1"/>
<path d="M765.9 99.8l9.8 16.7h-19.6z" stroke-width="3.1"/>
<path d="M797.3 105.8l9.8 16.7h-19.6z" stroke-width="3.1"/>
<path d="M828.8 113.8l9.8 16.7h-19.6z" stroke-width="3.1"/>
<path d="M860.2 122.8l9.8 16.7h-19.6z" stroke-width="3.1"/>
<path d="M891.7 134.6l9.8 16.7h-19.6z" stroke-width="3.1"/>
<path d="M923.2 146.7l9.8 16.7h-19.6z" stroke-width="3.1"/>
<path d="M954.6 162.4l9.8 16.7h-19.6z" stroke-width="3.1"/>
<path d="M986.1 181.9l9.8 16.7h-19.6z" stroke-width="3.1"/>
<path d="M1017.5 203.2l9.8 16.7h-19.6z" stroke-width="3.1"/>
<path d="M1049.0 228.3l9.8 16.7h-19.6z" stroke-width="3.1"/>
<path d="M1080.4 258.1l9.8 16.7h-19.6z" stroke-width="3.1"/>
<path d="M1111.9 294.6l9.8 16.7h-19.6z" stroke-width="3.1"/>
<path d="M1143.4 338.3l9.8 16.7h-19.6z" stroke-width="3.1"/>
<path d="M1174.8 397.5l9.8 16.7h-19.6z" stroke-width="3.1"/>
<path d="M1206.3 481.0l9.8 16.7h-19.6z" stroke-width="3.1"/>
<path d="M1237.7 670.5l9.8 16.7h-19.6z" stroke-width="3.1"/>
<path d="M1269.2 622.5l9.8 16.7h-19.6z" stroke-width="3.1"/>
<path d="M1300.6 465.7l9.8 16.7h-19.6z" stroke-width="3.1"/>
<path d="M1332.1 386.5l9.8 16.7h-19.6z" stroke-width="3.1"/>
<path d="M1363.6 332.3l9.8 16.7h-19.6z" stroke-width="3.1"/>
<path d="M1395.0 291.1l9.8 16.7h-19.6z" stroke-width="3.1"/>
<path d="M1426.5 254.8l9.8 16.7h-19.6z" stroke-width="3.1"/>
<path d="M1457.9 224.5l9.8 16.7h-19.6z" stroke-width="3.1"/>
<path d="M1489.4 200.5l9.8 16.7h-19.6z" stroke-width="3.1"/>
<path d="M1520.8 179.2l9.8 16.7h-19.6z" stroke-width="3.1"/>
<path d="M1552.3 160.5l9.8 16.7h-19.6z" stroke-width="3.1"/>
<path d="M1583.8 146.3l9.8 16.7h-19.6z" stroke-width="3.1"/>
<path d="M1615.2 133.8l9.8 16.7h-19.6z" stroke-width="3.1"/>
<path d="M1646.7 122.3l9.8 16.7h-19.6z" stroke-width="3.1"/>
<path d="M1678.1 114.3l9.8 16.7h-19.6z" stroke-width="3.1"/>
<path d="M1709.6 106.3l9.8 16.7h-19.6z" stroke-width="3.1"/>
<path d="M1741.1 99.8l9.8 16.7h-19.6z" stroke-width="3.1"/>
<path d="M1772.5 93.8l9.8 16.7h-19.6z" stroke-width="3.1"/>
<path d="M1804.0 87.3l9.8 16.7h-19.6z" stroke-width="3.1"/>
<path d="M1835.4 84.4l9.8 16.7h-19.6z" stroke-width="3.1"/>
<path d="M1866.9 81.3l9.8 16.7h-19.6z" stroke-width="3.1"/>
<path d="M1898.3 78.2l9.8 16.7h-19.6z" stroke-width="3.1"/>
<path d="M1929.8 75.3l9.8 16.7h-19.6z" stroke-width="3.1"/>
<path d="M1961.3 73.6l9.8 16.7h-19.6z" stroke-width="3.1"/>
<path d="M1992.7 71.3l9.8 16.7h-19.6z" stroke-width="3.1"/>
<path d="M2024.2 70.1l9.8 16.7h-19.6z" stroke-width="3.1"/>
<path d="M2055.6 68.4l9.8 16.7h-19.6z" stroke-width="3.1"/>
<path d="M2087.1 66.7l9.8 16.7h-19.6z" stroke-width="3.1"/>
<path d="M2118.5 65.8l9.8 16.7h-19.6z" stroke-width="3.1"/>
<path d="M2150.0 65.5l9.8 16.7h-19.6z" stroke-width="3.1"/>
</g>
<g stroke="#4a4a4c" stroke-width="2" fill="none">
<rect x="282.0" y="45.95" width="1893.4" height="908.8"/>
<path d="M660.1 45.95v19.5M660.1 954.8v-20"/>
<path d="M1039.0 45.95v19.5M1039.0 954.8v-20"/>
<path d="M1418.0 45.95v19.5M1418.0 954.8v-20"/>
<path d="M1796.1 45.95v19.5M1796.1 954.8v-20"/>
<path d="M282.0 63.9h20M2175.4 63.9h-20"/>
<path d="M282.0 241.9h20M2175.4 241.9h-20"/>
<path d="M282.0 419.9h20M2175.4 419.9h-20"/>
<path d="M282.0 597.9h20M2175.4 597.9h-20"/>
<path d="M282.0 775.9h20M2175.4 775.9h-20"/>
</g>
<g font-size="76">
<text x="228" y="86.7" text-anchor="end">0</text>
<text x="137.4" y="264.7"><tspan textLength="50.15" lengthAdjust="spacingAndGlyphs">−</tspan><tspan x="183.4">10</tspan></text>
<text x="137.4" y="443.2"><tspan textLength="50.15" lengthAdjust="spacingAndGlyphs">−</tspan><tspan x="183.4">20</tspan></text>
<text x="137.4" y="621.7"><tspan textLength="50.15" lengthAdjust="spacingAndGlyphs">−</tspan><tspan x="183.4">30</tspan></text>
<text x="137.4" y="800.6"><tspan textLength="50.15" lengthAdjust="spacingAndGlyphs">−</tspan><tspan x="183.4">40</tspan></text>
<text x="137.4" y="979.5"><tspan textLength="50.15" lengthAdjust="spacingAndGlyphs">−</tspan><tspan x="183.4">50</tspan></text>
</g>
<g font-size="76" text-anchor="middle">
<text x="283.5" y="1070.9">193.39</text>
<text x="663" y="1070.9">193.395</text>
<text x="1038" y="1070.9">193.4</text>
<text x="1414.5" y="1070.9">193.405</text>
<text x="1808" y="1070.9">193.41</text>
<text x="2170" y="1070.9">193.415</text>
</g>
<g font-size="76.5" text-anchor="middle">
<text x="1237.8" y="1180">Frequency (THz)</text>
<text transform="translate(95.2 503) rotate(-90)">Magnitude (dB)</text>
</g>
<g class="lg">
<rect x="375.6" y="543.3" width="499.7" height="338.3" fill="#fff" stroke="#000" stroke-width="1.2"/>
<g fill="none" stroke="#000" stroke-width="3.2">
<circle cx="431" cy="589.8" r="9.6"/>
<rect x="417.4" y="685.8" width="26.2" height="26.4"/>
<path d="M431 792.4l12.8 22h-25.6z"/>
</g>
<text x="485.8" y="611.2" font-size="76.5">S<tspan font-size="44.5" dx="-1.5" dy="24.6">21</tspan><tspan dx="1.3" dy="-24.6"> (TCMT)</tspan></text>
<text x="485.8" y="722.4" font-size="76.5">S<tspan font-size="44.5" dx="-1.5" dy="24.6">31</tspan><tspan dx="1.3" dy="-24.6"> (TCMT)</tspan></text>
<text x="485.8" y="827.6" font-size="76.5">S<tspan font-size="44.5" dx="-1.5" dy="24.6">11</tspan><tspan dx="1.3" dy="-24.6"> (TCMT)</tspan></text>
</g>
<g class="lg">
<rect x="1516.4" y="542.5" width="602.9" height="339.2" fill="#fff" stroke="#000" stroke-width="1.2"/>
<g fill="none" stroke="#000" stroke-width="5.5">
<path d="M1534.8 586.6H1608"/>
<path d="M1538.8 693.5H1606.4" stroke-dasharray="4.4 4.63"/>
<path d="M1536.8 803.5H1606.4" stroke-dasharray="18 7.8"/>
</g>
<text x="1627.0" y="615" font-size="76.5">S<tspan font-size="44.5" dx="-1.5" dy="24.6">21</tspan><tspan dx="1.3" dy="-24.6"> (COMSOL)</tspan></text>
<text x="1627.0" y="725.4" font-size="76.5">S<tspan font-size="44.5" dx="-1.5" dy="24.6">31</tspan><tspan dx="1.3" dy="-24.6"> (COMSOL)</tspan></text>
<text x="1627.0" y="830.1" font-size="76.5">S<tspan font-size="44.5" dx="-1.5" dy="24.6">11</tspan><tspan dx="1.3" dy="-24.6"> (COMSOL)</tspan></text>
</g>
</svg></body></html>
